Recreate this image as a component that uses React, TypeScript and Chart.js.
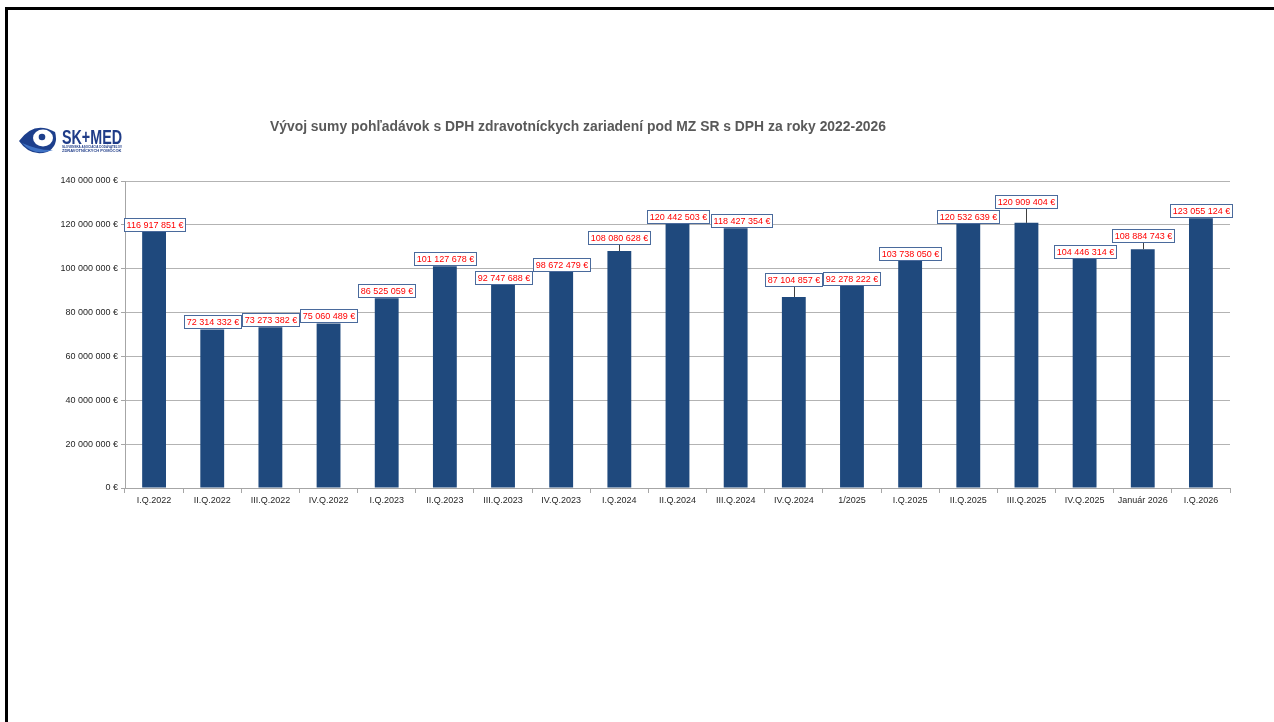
import React, { useEffect, useRef } from "react";
import { Chart, registerables } from "chart.js";

Chart.register(...registerables);

const categories = [
  "I.Q.2022", "II.Q.2022", "III.Q.2022", "IV.Q.2022",
  "I.Q.2023", "II.Q.2023", "III.Q.2023", "IV.Q.2023",
  "I.Q.2024", "II.Q.2024", "III.Q.2024", "IV.Q.2024",
  "1/2025", "I.Q.2025", "II.Q.2025", "III.Q.2025", "IV.Q.2025",
  "Január 2026", "I.Q.2026",
];

const receivables = [
  116917851, 72314332, 73273382, 75060489,
  86525059, 101127678, 92747688, 98672479,
  108080628, 120442503, 118427354, 87104857,
  92278222, 103738050, 120532639, 120909404, 104446314,
  108884743, 123055124,
];

const yMax = 140000000;
const yStep = 20000000;

const titleText = "Vývoj sumy pohľadávok s DPH zdravotníckych zariadení pod MZ SR s DPH za roky 2022-2026";
const logoText = "SK+MED";
const logoSub1 = "SLOVENSKÁ ASOCIÁCIA DODÁVATEĽOV";
const logoSub2 = "ZDRAVOTNÍCKYCH POMÔCOK";

const fmt = (v: number) =>
  String(Math.round(v)).replace(/\B(?=(\d{3})+(?!\d))/g, " ") + " €";

const FONT = '"Liberation Sans", Arial, sans-serif';

// label placement tweaks (styling only)
const labelLift: Record<number, number> = { 8: 6, 11: 10, 15: 14, 17: 6 };
const labelShift: Record<number, number> = { 10: 6 };

const labelsPlugin = {
  id: "valueLabels",
  afterDatasetsDraw(chart: any) {
    const ctx = chart.ctx;
    const meta = chart.getDatasetMeta(0);
    ctx.save();
    ctx.font = `9px ${FONT}`;
    meta.data.forEach((bar: any, i: number) => {
      const v = chart.data.datasets[0].data[i];
      const txt = fmt(v);
      const w = Math.round(ctx.measureText(txt).width + 4);
      const h = 13;
      const lift = labelLift[i] || 0;
      const shift = labelShift[i] || 0;
      const cx = bar.x + shift;
      const bx = Math.round(cx - w / 2) + 0.5;
      const by = Math.round(bar.y - 1 - lift - h) + 0.5;
      if (lift > 0) {
        ctx.strokeStyle = "#404040";
        ctx.lineWidth = 1;
        ctx.beginPath();
        ctx.moveTo(Math.round(bar.x) + 0.5, bar.y);
        ctx.lineTo(Math.round(bar.x) + 0.5, by + h);
        ctx.stroke();
      }
      ctx.fillStyle = "#ffffff";
      ctx.fillRect(bx, by, w, h);
      ctx.strokeStyle = "#4a6a9c";
      ctx.lineWidth = 1;
      ctx.strokeRect(bx, by, w, h);
      ctx.fillStyle = "#ff0000";
      ctx.textAlign = "center";
      ctx.textBaseline = "middle";
      ctx.fillText(txt, bx + w / 2, by + h / 2 + 0.5);
    });
    ctx.restore();
  },
};

const decorPlugin = {
  id: "decor",
  afterDraw(chart: any) {
    const ctx = chart.ctx;
    ctx.save();
    // title
    ctx.font = `bold 14px ${FONT}`;
    ctx.fillStyle = "#595959";
    ctx.textAlign = "center";
    ctx.textBaseline = "middle";
    ctx.fillText(titleText, 578, 127, 616);

    // logo eye
    ctx.fillStyle = "#1d3f8c";
    ctx.beginPath();
    ctx.moveTo(19, 141);
    ctx.quadraticCurveTo(34, 120, 55, 132);
    ctx.quadraticCurveTo(59, 146, 47, 152);
    ctx.quadraticCurveTo(30, 157, 19, 141);
    ctx.fill();
    ctx.fillStyle = "#3f72c4";
    ctx.beginPath();
    ctx.moveTo(22, 143);
    ctx.quadraticCurveTo(34, 157, 53, 150);
    ctx.quadraticCurveTo(40, 151, 22, 143);
    ctx.fill();
    ctx.fillStyle = "#ffffff";
    ctx.beginPath();
    ctx.ellipse(43, 138, 10, 8.5, 0, 0, Math.PI * 2);
    ctx.fill();
    ctx.fillStyle = "#1d3f8c";
    ctx.beginPath();
    ctx.arc(42, 137, 3.3, 0, Math.PI * 2);
    ctx.fill();

    // logo text
    ctx.textAlign = "left";
    ctx.textBaseline = "alphabetic";
    ctx.fillStyle = "#1f3c88";
    ctx.font = `bold 20px ${FONT}`;
    ctx.fillText(logoText, 62, 143.5, 60);
    ctx.font = `bold 4px ${FONT}`;
    ctx.fillText(logoSub1, 62, 148, 60);
    ctx.fillText(logoSub2, 62, 152, 60);
    ctx.restore();
  },
};

export default function App() {
  const ref = useRef<HTMLCanvasElement | null>(null);

  useEffect(() => {
    document.body.style.overflow = "hidden";
    Chart.defaults.font.family = FONT;
    const chart = new Chart(ref.current as HTMLCanvasElement, {
      type: "bar",
      data: {
        labels: categories,
        datasets: [
          {
            data: receivables,
            backgroundColor: "#1f497d",
            borderWidth: 0,
            barPercentage: 0.41,
            categoryPercentage: 1,
          },
        ],
      },
      options: {
        animation: false,
        responsive: true,
        maintainAspectRatio: false,
        layout: { padding: { left: 0, right: 44, top: 181, bottom: 204 } },
        plugins: {
          legend: { display: false },
          title: { display: false },
          tooltip: { enabled: false },
        },
        scales: {
          x: {
            offset: true,
            grid: {
              display: true,
              drawOnChartArea: false,
              drawTicks: true,
              tickLength: 5,
              offset: true,
              color: "#a6a6a6",
            },
            border: { color: "#a6a6a6" },
            ticks: {
              font: { size: 9 },
              color: "#262626",
              maxRotation: 0,
              autoSkip: false,
              padding: 2,
            },
            afterFit(scale: any) {
              scale.height = 30;
            },
          },
          y: {
            min: 0,
            max: yMax,
            ticks: {
              stepSize: yStep,
              font: { size: 9 },
              color: "#262626",
              padding: 3,
              callback: (v: any) => fmt(Number(v)),
            },
            grid: {
              color: "#b3b3b3",
              tickLength: 4,
              tickColor: "#a6a6a6",
            },
            border: { color: "#a6a6a6" },
            afterFit(scale: any) {
              scale.width = 125;
            },
          },
        },
      },
      plugins: [labelsPlugin, decorPlugin],
    } as any);
    return () => chart.destroy();
  }, []);

  return (
    <>
      <div
        style={{
          position: "absolute",
          left: 5,
          top: 7,
          width: 1269,
          height: 715,
          boxSizing: "border-box",
          borderTop: "3px solid #000",
          borderLeft: "3px solid #000",
          pointerEvents: "none",
        }}
      />
      <div style={{ position: "absolute", left: 0, top: 0, width: 1274, height: 722 }}>
        <canvas ref={ref} />
      </div>
    </>
  );
}
